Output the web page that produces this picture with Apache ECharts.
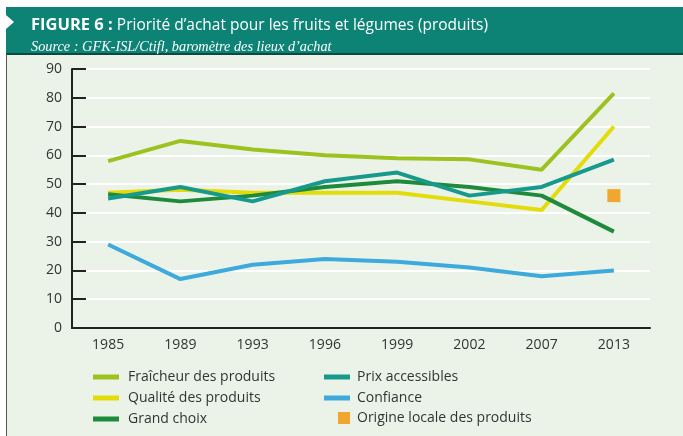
<!DOCTYPE html>
<html>
<head>
<meta charset="utf-8">
<script src="https://cdn.jsdelivr.net/npm/echarts@6/dist/echarts.min.js"></script>
<style>
  html, body { margin: 0; padding: 0; background: #fff; }
  #main { width: 683px; height: 436px; }
</style>
</head>
<body>
<div id="main"></div>
<script>
var years = ['1985', '1989', '1993', '1996', '1999', '2002', '2007', '2013'];
var fraicheur = [58, 65, 62, 60, 59, 58.6, 55, 81.5];
var prix = [45, 49, 44, 51, 54, 46, 49, 58.5];
var qualite = [47, 48, 47, 47, 47, 44, 41, 70];
var confiance = [29, 17, 22, 24, 23, 21, 18, 20];
var grandChoix = [46.5, 44, 46, 49, 51, 49, 46, 33.5];
var origine = [null, null, null, null, null, null, null, 46];

var chartDom = document.getElementById('main');
var myChart = echarts.init(chartDom, null, { renderer: 'canvas' });

function lineSerie(name, data, color) {
  return {
    name: name,
    type: 'line',
    data: data,
    symbol: 'none',
    lineStyle: { color: color, width: 4 },
    itemStyle: { color: color },
    z: 5
  };
}

function legendAt(name, left, top, w, h, gap) {
  return {
    data: [{ name: name, icon: 'rect' }],
    left: left,
    top: top,
    padding: 0,
    itemWidth: w,
    itemHeight: h,
    itemGap: 8,
    textStyle: { fontFamily: 'Open Sans', fontSize: 14, color: '#333', padding: [0, 0, 0, gap] }
  };
}

var option = {
  backgroundColor: '#fff',
  animation: false,
  graphic: [
    { type: 'rect', z: -10, shape: { x: 6, y: 54, width: 677, height: 382 }, style: { fill: '#ebf3e8' } },
    { type: 'rect', z: -9, shape: { x: 6, y: 7, width: 677, height: 47 }, style: { fill: '#0c8375' } },
    { type: 'rect', z: -8, shape: { x: 6, y: 53, width: 677, height: 2 }, style: { fill: '#0b4a3e' } },
    { type: 'rect', z: -8, shape: { x: 6, y: 54, width: 1, height: 382 }, style: { fill: '#555' } },
    { type: 'polygon', z: -7, shape: { points: [[6, 15], [14, 22], [6, 29]] }, style: { fill: '#fff' } }
  ],
  title: [
    {
      text: '{b|FIGURE 6 :} Priorité d\u2019achat pour les fruits et légumes (produits)',
      left: 26,
      top: 12,
      textStyle: {
        color: '#fff',
        fontFamily: 'Open Sans',
        fontSize: 15.5,
        fontWeight: 'normal',
        rich: {
          b: { color: '#fff', fontFamily: 'Open Sans', fontSize: 16.5, fontWeight: 'bold' }
        }
      }
    },
    {
      text: 'Source : GFK-ISL/Ctifl, baromètre des lieux d\u2019achat',
      left: 26,
      top: 35,
      textStyle: {
        color: '#fff',
        fontFamily: 'Liberation Serif',
        fontStyle: 'italic',
        fontSize: 14.3,
        fontWeight: 'normal'
      }
    }
  ],
  legend: [
    legendAt('Fraîcheur des produits', 93, 370, 26, 5, 4),
    legendAt('Qualité des produits', 93, 391, 26, 5, 4),
    legendAt('Grand choix', 93, 412, 26, 5, 4),
    legendAt('Prix accessibles', 324, 370, 26, 5, 2),
    legendAt('Confiance', 324, 391, 26, 5, 2),
    legendAt('Origine locale des produits', 338, 411, 12, 12, 2)
  ],
  grid: { left: 72, right: 33, top: 69, bottom: 108 },
  xAxis: {
    type: 'category',
    data: years,
    boundaryGap: true,
    axisLine: { lineStyle: { color: '#222', width: 2 } },
    axisTick: { inside: true, length: 6, lineStyle: { color: '#222', width: 2 } },
    axisLabel: { color: '#333', fontFamily: 'Open Sans', fontSize: 14, margin: 10 }
  },
  yAxis: {
    type: 'value',
    min: 0,
    max: 90,
    interval: 10,
    axisLine: { show: true, lineStyle: { color: '#222', width: 2 } },
    axisTick: { show: true, inside: true, length: 14, lineStyle: { color: '#222', width: 2 } },
    axisLabel: { color: '#333', fontFamily: 'Open Sans', fontSize: 14, margin: 10 },
    splitLine: { lineStyle: { color: '#fff', width: 2 } }
  },
  series: [
    lineSerie('Fraîcheur des produits', fraicheur, '#9cc21f'),
    lineSerie('Qualité des produits', qualite, '#e3dc08'),
    lineSerie('Grand choix', grandChoix, '#1d8a3c'),
    lineSerie('Prix accessibles', prix, '#17998c'),
    lineSerie('Confiance', confiance, '#3eaadc'),
    {
      name: 'Origine locale des produits',
      type: 'scatter',
      data: origine,
      symbol: 'rect',
      symbolSize: 13,
      itemStyle: { color: '#f39200' },
      z: 6
    }
  ]
};
option && myChart.setOption(option);
</script>
</body>
</html>
